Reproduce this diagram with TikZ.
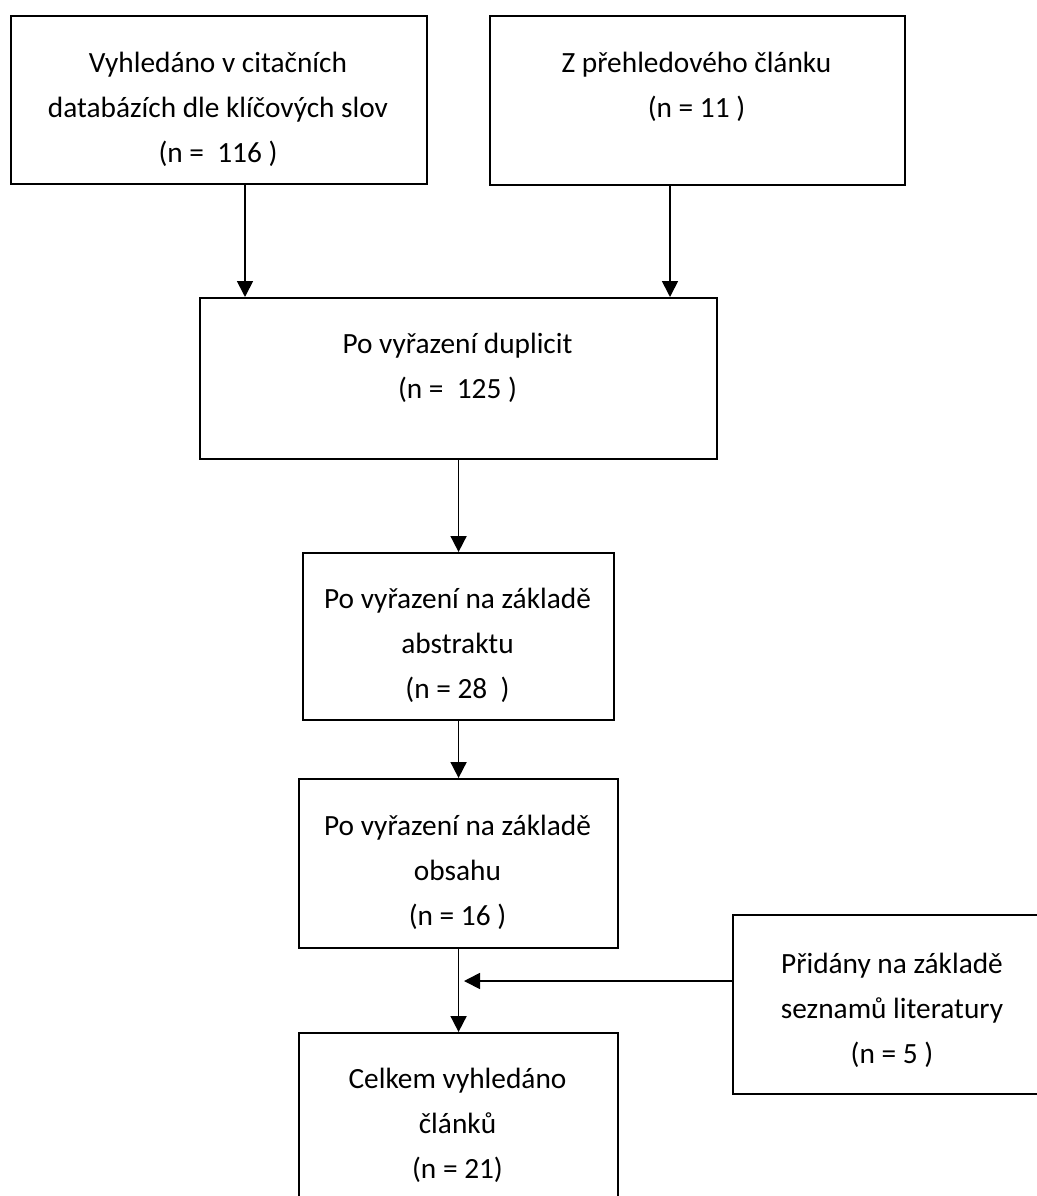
\documentclass[tikz,border=0pt]{standalone}
\usepackage{fontspec}
\setmainfont{Carlito}
\usetikzlibrary{arrows.meta}
\tikzset{
  box/.style={draw=black, line width=1.6pt, rectangle, inner sep=0pt, anchor=north west},
  txt/.style={inner sep=0pt, anchor=base, font=\fontsize{22}{33.75}\selectfont},
  arr/.style={draw=black, line width=1.3pt, -{Triangle[width=12pt,length=12pt]}}
}
\begin{document}
\begin{tikzpicture}[x=0.75pt,y=-0.75pt]
\useasboundingbox (0,0) rectangle (1037,1196);
\fill[white] (0,0) rectangle (1037,1196);
\clip (0,0) rectangle (1037,1196);
% boxes
\node[box, minimum width=312pt, minimum height=126pt] (A) at (10,15) {};
\node[box, minimum width=311.25pt, minimum height=126.75pt] (B) at (489,15) {};
\node[box, minimum width=387.75pt, minimum height=120.75pt] (C) at (199,297) {};
\node[box, minimum width=233.25pt, minimum height=125.25pt] (D) at (302,552) {};
\node[box, minimum width=239.25pt, minimum height=126.75pt] (E) at (298,778) {};
\node[box, minimum width=246pt, minimum height=134.25pt] (F) at (732,914) {};
\node[box, minimum width=239.25pt, minimum height=148.5pt] (G) at (298,1032) {};
% texts
\node[txt] (tA) at (218,72) {\begin{tabular}[t]{@{}c@{}}Vyhledáno v citačních\\ databázích dle klíčových slov\\ (n =\ \ 116 )\end{tabular}};
\node[txt] (tB) at (696.5,72) {\begin{tabular}[t]{@{}c@{}}Z přehledového článku\\ (n = 11 )\end{tabular}};
\node[txt] (tC) at (457.5,353) {\begin{tabular}[t]{@{}c@{}}Po vyřazení duplicit\\ (n =\ \ 125 )\end{tabular}};
\node[txt] (tD) at (457.5,608) {\begin{tabular}[t]{@{}c@{}}Po vyřazení na základě\\ abstraktu\\ (n = 28\ \ )\end{tabular}};
\node[txt] (tE) at (457.5,835) {\begin{tabular}[t]{@{}c@{}}Po vyřazení na základě\\ obsahu\\ (n = 16 )\end{tabular}};
\node[txt] (tF) at (892,973) {\begin{tabular}[t]{@{}c@{}}Přidány na základě\\ seznamů literatury\\ (n = 5 )\end{tabular}};
\node[txt] (tG) at (457.5,1088) {\begin{tabular}[t]{@{}c@{}}Celkem vyhledáno\\ článků\\ (n = 21)\end{tabular}};
% connector end points
\coordinate (cA) at (245,297);
\coordinate (cB) at (670,297);
\coordinate (cF) at (464,981);
% connectors
\draw[arr] (A.south -| cA) -- (cA);
\draw[arr] (B.south -| cB) -- (cB);
\draw[arr] (C.south) -- (D.north);
\draw[arr] (D.south) -- (E.north);
\draw[arr] (E.south) -- (G.north);
\draw[arr] (F.west |- cF) -- (cF);
\end{tikzpicture}
\end{document}
